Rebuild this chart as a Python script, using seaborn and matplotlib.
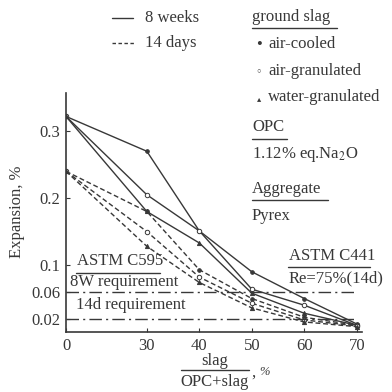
import numpy as np
import pandas as pd
import matplotlib
matplotlib.use("Agg")
import matplotlib.pyplot as plt
from matplotlib.lines import Line2D
import seaborn as sns

# ---------------- data ----------------
slag_pct = [0, 30, 40, 50, 60, 70]
slag_types = ["air-cooled", "air-granulated", "water-granulated"]
ages = ["8 weeks", "14 days"]

w8_air_cooled = [0.322, 0.270, 0.151, 0.090, 0.050, 0.012]
w8_air_granulated = [0.322, 0.205, 0.151, 0.064, 0.040, 0.010]
w8_water_granulated = [0.322, 0.180, 0.133, 0.058, 0.028, 0.010]

d14_air_cooled = [0.240, 0.180, 0.093, 0.050, 0.022, 0.010]
d14_air_granulated = [0.240, 0.150, 0.082, 0.043, 0.018, 0.009]
d14_water_granulated = [0.240, 0.128, 0.074, 0.036, 0.015, 0.008]

req_levels = [0.06, 0.02]
y_ticks = [0.02, 0.06, 0.1, 0.2, 0.3]
y_ticklabels = ["0.02", "0.06", "0.1", "0.2", "0.3"]
x_ticks = [0, 30, 40, 50, 60, 70]
x_ticklabels = ["0", "30", "40", "50", "60", "70"]

series = {
    ("8 weeks", "air-cooled"): w8_air_cooled,
    ("8 weeks", "air-granulated"): w8_air_granulated,
    ("8 weeks", "water-granulated"): w8_water_granulated,
    ("14 days", "air-cooled"): d14_air_cooled,
    ("14 days", "air-granulated"): d14_air_granulated,
    ("14 days", "water-granulated"): d14_water_granulated,
}
rows = []
for (age, st), vals in series.items():
    for x, v in zip(slag_pct, vals):
        rows.append({"slag": x, "expansion": v, "age": age, "type": st})
df = pd.DataFrame(rows)

# ---------------- style ----------------
sns.set_theme(style="white")
plt.rcParams["font.family"] = ["Liberation Serif", "DejaVu Serif", "DejaVu Sans"]
plt.rcParams["mathtext.fontset"] = "stix"
INK = "#383838"
FS = 12

fig = plt.figure(figsize=(3.92, 3.92), dpi=100)
W = H = 392.0
def fx(x):
    return x / W
def fy(y):
    return 1 - y / H

ax = fig.add_axes([fx(66), fy(332), fx(362) - fx(66), fy(93) - fy(332)])

# x scale: 0..30 compressed as in the original
def fwd(x):
    x = np.asarray(x, dtype=float)
    return np.where(x < 30, 14.6 + x * 15.4 / 30.0, x)
def inv(t):
    t = np.asarray(t, dtype=float)
    return np.where(t < 30, (t - 14.6) * 30.0 / 15.4, t)
ax.set_xscale("function", functions=(fwd, inv))

markers = {"air-cooled": "o", "air-granulated": "o", "water-granulated": "^"}
mfc = {"air-cooled": INK, "air-granulated": "white", "water-granulated": INK}
msize = {"air-cooled": 2.6, "air-granulated": 3.2, "water-granulated": 3.0}
dashes = {"8 weeks": "-", "14 days": (0, (3.5, 2))}

for (age, st), vals in series.items():
    sub = df[(df["age"] == age) & (df["type"] == st)]
    sns.lineplot(data=sub, x="slag", y="expansion", ax=ax, color=INK, lw=1.0,
                 marker=markers[st], markersize=msize[st], markerfacecolor=mfc[st],
                 markeredgecolor=INK, markeredgewidth=0.7, linestyle=dashes[age],
                 legend=False, estimator=None, sort=False)

ax.hlines(req_levels, 0, 70, colors=INK, lw=1.0, linestyles=[(0, (9, 3, 1.5, 3))])

ax.set_xlim(0, 71)
ax.set_ylim(0, 0.357)
ax.set_xticks(x_ticks)
ax.set_xticklabels(x_ticklabels)
ax.set_yticks(y_ticks)
ax.set_yticklabels(y_ticklabels)
ax.tick_params(axis="both", direction="in", length=3, width=0.8, colors=INK,
               labelsize=FS, labelcolor=INK, pad=4, left=True, bottom=True)
for s in ["top", "right"]:
    ax.spines[s].set_visible(False)
for s in ["left", "bottom"]:
    ax.spines[s].set_color(INK)
    ax.spines[s].set_linewidth(1.2)
ax.set_xlabel("")
ax.set_ylabel("")
ax.grid(False)
ax.set_facecolor("white")

# ---------------- texts ----------------
def t(x, y, s, ha="left", va="center", size=FS, **kw):
    fig.text(fx(x), fy(y), s, ha=ha, va=va, fontsize=size, color=INK, **kw)

def uline(x0, x1, y):
    fig.add_artist(Line2D([fx(x0), fx(x1)], [fy(y), fy(y)], transform=fig.transFigure,
                          color=INK, lw=1.0))

# top-left legend
fig.add_artist(Line2D([fx(112), fx(133)], [fy(18), fy(18)], transform=fig.transFigure, color=INK, lw=1.0))
fig.add_artist(Line2D([fx(112), fx(135)], [fy(43), fy(43)], transform=fig.transFigure, color=INK, lw=1.0,
                      linestyle=(0, (2.5, 1.8))))
t(145, 18, "8 weeks")
t(145, 43, "14 days")

# right panel
t(252, 17, "ground slag")
uline(252, 337, 28)
t(259, 45, "•", ha="center")
t(268, 44, "air-cooled")
t(259, 72, "◦", ha="center", family=["DejaVu Sans"], size=8)
t(268, 71, "air-granulated")
t(259, 99, "▴", ha="center", family=["DejaVu Sans"], size=6)
t(268, 97, "water-granulated")
t(252, 127, "OPC")
uline(252, 287, 139)
t(252, 155, "1.12% eq.Na$_2$O")
t(252, 189, "Aggregate")
uline(252, 328, 200)
t(252, 216, "Pyrex")

# requirement labels
t(77, 261, "ASTM C595")
uline(76, 160, 273)
t(70, 282, "8W requirement")
t(76, 305, "14d requirement")
t(289, 256, "ASTM C441")
uline(288, 370, 267)
t(289, 278, "Re=75%(14d)")

# axis labels
t(17, 212, "Expansion, %", ha="center", rotation=90)
t(215, 361, "slag", ha="center")
uline(181, 249, 370)
t(215, 382, "OPC+slag", ha="center")
t(251, 373, ",", ha="left")
t(259, 372, "%", ha="left", style="italic", size=9)

fig.savefig("out.png", dpi=100, facecolor="white")
